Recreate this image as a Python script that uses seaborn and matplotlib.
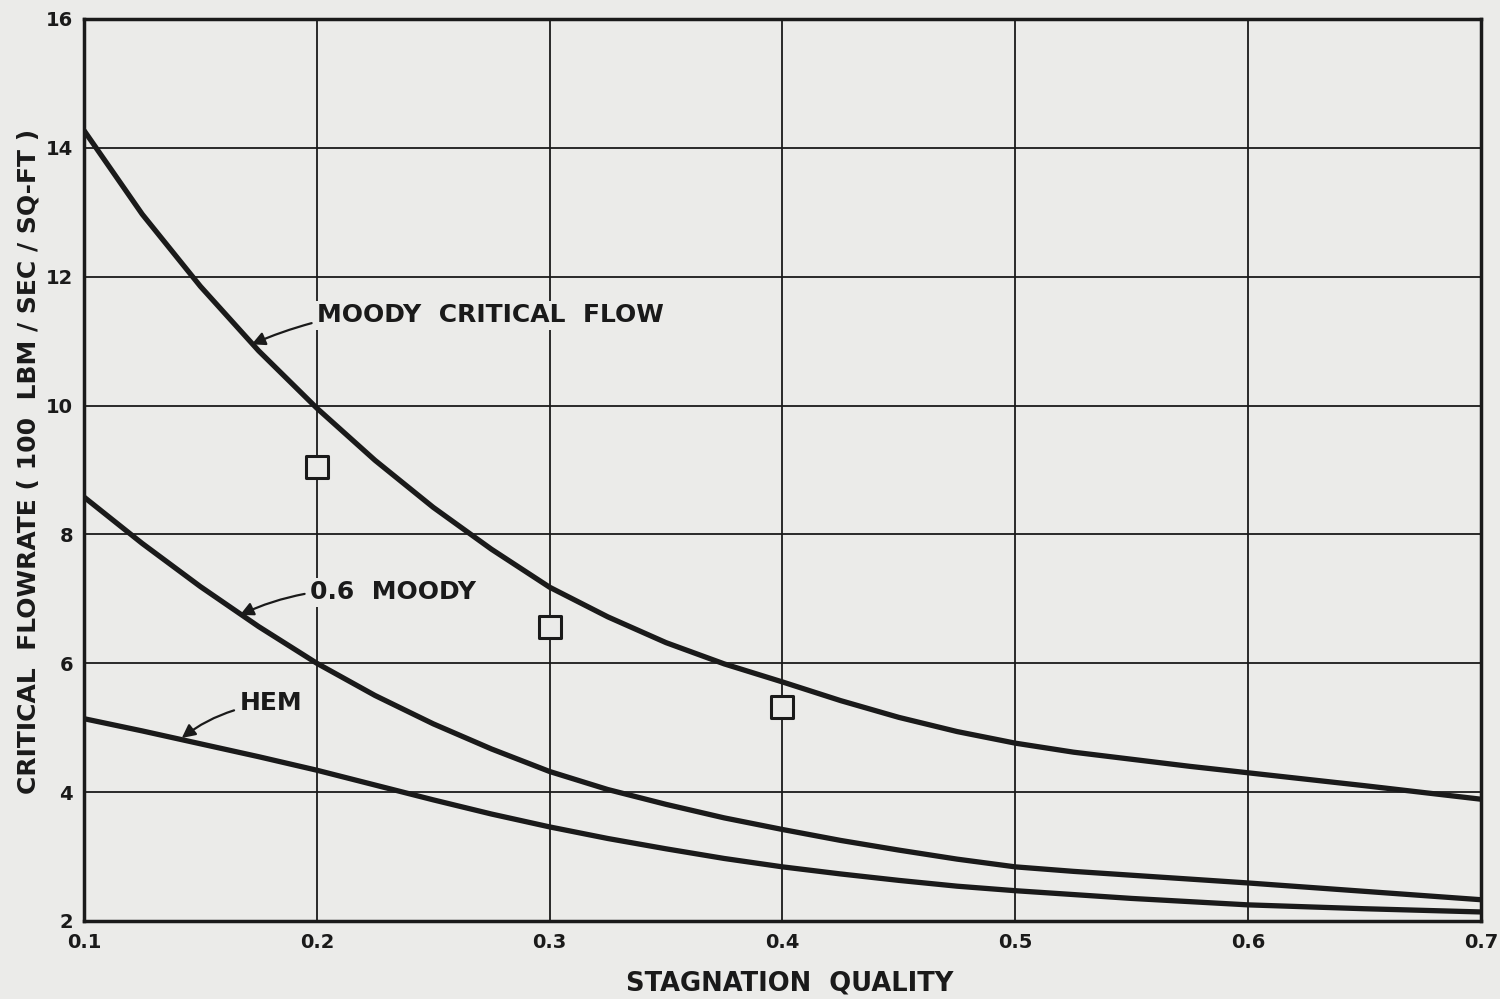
import numpy as np
import pandas as pd
import matplotlib
matplotlib.use("Agg")
import matplotlib.pyplot as plt
import seaborn as sns

# Data
quality = [0.100, 0.125, 0.150, 0.175, 0.200, 0.225, 0.250, 0.275, 0.300, 0.325,
           0.350, 0.375, 0.400, 0.425, 0.450, 0.475, 0.500, 0.525, 0.550, 0.575,
           0.600, 0.650, 0.700]
moody = [14.27, 12.97, 11.85, 10.85, 9.96, 9.15, 8.42, 7.77, 7.18, 6.72,
         6.32, 5.99, 5.71, 5.42, 5.16, 4.94, 4.76, 4.62, 4.51, 4.40,
         4.30, 4.10, 3.89]
moody_06 = [8.58, 7.86, 7.19, 6.57, 6.00, 5.50, 5.06, 4.67, 4.32, 4.04,
            3.81, 3.60, 3.42, 3.25, 3.10, 2.96, 2.84, 2.77, 2.71, 2.65,
            2.59, 2.46, 2.33]
hem = [5.14, 4.95, 4.75, 4.55, 4.34, 4.11, 3.88, 3.66, 3.46, 3.28,
       3.12, 2.97, 2.84, 2.73, 2.63, 2.54, 2.47, 2.41, 2.35, 2.30,
       2.25, 2.19, 2.14]
exp_x = [0.2, 0.3, 0.4]
exp_y = [9.05, 6.56, 5.32]

x_ticks = [0.1, 0.2, 0.3, 0.4, 0.5, 0.6, 0.7]
x_tick_labels = ["0.1", "0.2", "0.3", "0.4", "0.5", "0.6", "0.7"]
y_ticks = [2, 4, 6, 8, 10, 12, 14, 16]
y_tick_labels = ["2", "4", "6", "8", "10", "12", "14", "16"]

n = len(quality)
df = pd.DataFrame({
    "quality": quality * 3,
    "flow": moody + moody_06 + hem,
    "curve": ["MOODY CRITICAL FLOW"] * n + ["0.6 MOODY"] * n + ["HEM"] * n,
})
df_exp = pd.DataFrame({"quality": exp_x, "flow": exp_y})

sns.set_theme(style="white")
plt.rcParams["font.family"] = ["DejaVu Sans"]
bg = "#ebebe9"
ink = "#1a1a1a"

fig = plt.figure(figsize=(15, 9.99), dpi=100, facecolor=bg)
ax = fig.add_axes([0.056, 0.0781, 0.9313, 0.9029])
ax.set_facecolor(bg)

sns.lineplot(data=df, x="quality", y="flow", units="curve", estimator=None,
             color=ink, linewidth=3.8, ax=ax, legend=False, sort=True,
             solid_joinstyle="round", solid_capstyle="butt")
sns.scatterplot(data=df_exp, x="quality", y="flow", marker="s", s=230,
                facecolor=bg, edgecolor=ink, linewidth=2.2, ax=ax, legend=False, zorder=5)

ax.set_xlim(0.1, 0.7)
ax.set_ylim(2, 16)
ax.set_xticks(x_ticks)
ax.set_xticklabels(x_tick_labels)
ax.set_yticks(y_ticks)
ax.set_yticklabels(y_tick_labels)
ax.grid(True, color=ink, linewidth=1.3)
ax.tick_params(axis="both", length=0, labelsize=14, colors=ink)
ax.tick_params(axis="x", pad=9)
ax.tick_params(axis="y", pad=8)
for lab in ax.get_xticklabels() + ax.get_yticklabels():
    lab.set_fontweight("bold")
for s in ax.spines.values():
    s.set_visible(True)
    s.set_color(ink)
    s.set_linewidth(2.5)

ax.set_xlabel("STAGNATION  QUALITY", fontsize=18.5, color=ink, fontweight="bold", va="center")
ax.set_ylabel("CRITICAL  FLOWRATE ( 100  LBM / SEC / SQ-FT )", fontsize=18, color=ink,
              fontweight="bold", va="center", ha="center")
ax.xaxis.set_label_coords(0.505, -0.069)
ax.yaxis.set_label_coords(-0.040, 0.509)

ann_kw = dict(fontsize=18, color=ink, ha="left", va="center", fontweight="bold",
              arrowprops=dict(arrowstyle="-|>", color=ink, lw=1.6, mutation_scale=20,
                              connectionstyle="arc3,rad=0.15", shrinkA=2, shrinkB=0))
ax.annotate("MOODY  CRITICAL  FLOW", xy=(0.172, 10.95), xytext=(0.2, 11.4),
            bbox=dict(boxstyle="square,pad=0.1", fc=bg, ec="none"), **ann_kw)
ax.annotate("0.6  MOODY", xy=(0.167, 6.75), xytext=(0.197, 7.1),
            bbox=dict(boxstyle="square,pad=0.1", fc=bg, ec="none"), **ann_kw)
ax.annotate("HEM", xy=(0.142, 4.84), xytext=(0.167, 5.38), **ann_kw)

fig.savefig("out.png", dpi=100, facecolor=bg)
